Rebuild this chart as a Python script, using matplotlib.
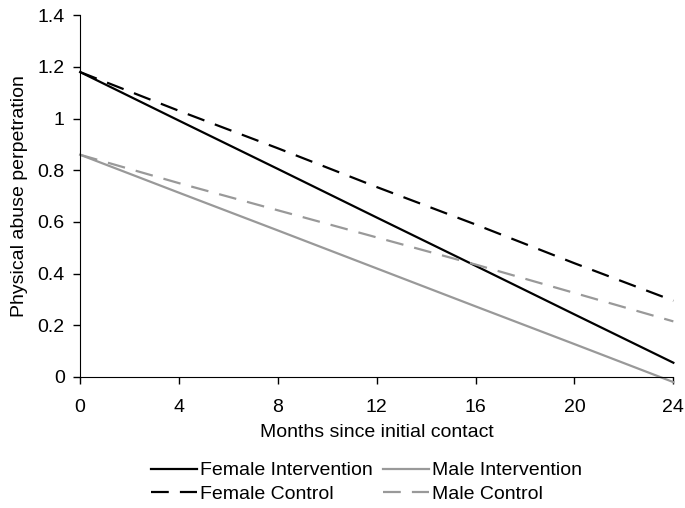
import matplotlib
matplotlib.use("Agg")
import matplotlib.pyplot as plt

# months since initial contact
months = [0, 4, 8, 12, 16, 20, 24]

# values
female_int = [1.18, 0.992, 0.805, 0.617, 0.43, 0.242, 0.055]
male_int = [0.86, 0.713, 0.567, 0.42, 0.273, 0.127, -0.02]
female_ctrl = [1.18, 1.03, 0.885, 0.735, 0.59, 0.44, 0.295]
male_ctrl = [0.86, 0.75, 0.645, 0.54, 0.435, 0.325, 0.215]

plt.rcParams['font.family'] = ['Liberation Sans', 'DejaVu Sans']
plt.rcParams['font.size'] = 14

fig = plt.figure(figsize=(6.85, 5.08), dpi=100)
ax = fig.add_axes([0.117, 0.258, 0.866, 0.712])

grey = '#999999'
dash = (0, (8, 5))
l1, = ax.plot(months, female_int, color='black', lw=1.6, clip_on=False, label='Female Intervention')
l2, = ax.plot(months, female_ctrl, color='black', lw=1.6, ls=dash, clip_on=False, label='Female Control')
l3, = ax.plot(months, male_int, color=grey, lw=1.6, clip_on=False, label='Male Intervention')
l4, = ax.plot(months, male_ctrl, color=grey, lw=1.6, ls=dash, clip_on=False, label='Male Control')

ax.set_xlim(0, 24)
ax.set_ylim(0, 1.4)
ax.set_xticks(months)
ax.set_yticks([0, 0.2, 0.4, 0.6, 0.8, 1, 1.2, 1.4])
ax.set_yticklabels(['0', '0.2', '0.4', '0.6', '0.8', '1', '1.2', '1.4'])
ax.spines['top'].set_visible(False)
ax.spines['right'].set_visible(False)
ax.tick_params(direction='out', length=5, width=1, colors='black', pad=6)
ax.tick_params(axis='x', pad=11)
ax.set_xlabel('Months since initial contact', labelpad=6)
ax.set_ylabel('Physical abuse perpetration', labelpad=7)

fig.legend(handles=[l1, l2, l3, l4], loc='lower center', bbox_to_anchor=(0.535, -0.005),
           ncol=2, frameon=False, handlelength=2.4, handletextpad=0.15,
           columnspacing=0.5, labelspacing=0.3, borderaxespad=0.0)

fig.savefig('out.png', dpi=100)
